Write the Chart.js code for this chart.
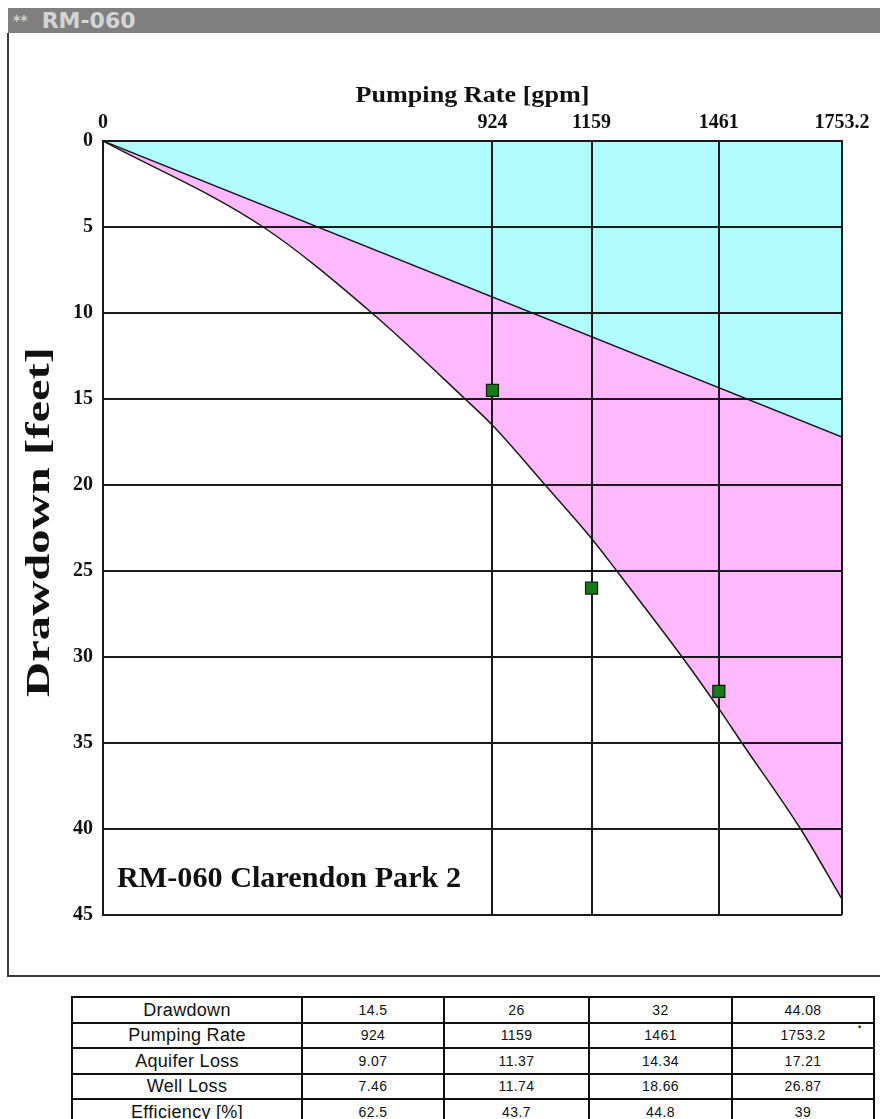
<!DOCTYPE html>
<html>
<head>
<meta charset="utf-8">
<script src="https://cdn.jsdelivr.net/npm/chart.js@4.4.1/dist/chart.umd.min.js"></script>
<style>
  html, body { margin: 0; padding: 0; background: #ffffff; }
  body { width: 880px; height: 1119px; position: relative; overflow: hidden; }
  #bar { position: absolute; left: 8px; top: 8px; width: 872px; height: 25px; background: #808080;
         color: #d4d4d4; font-family: 'DejaVu Sans', 'Liberation Sans', sans-serif; font-weight: bold;
         font-size: 22px; line-height: 25px; white-space: nowrap; }
  #bar .stars { font-size: 14px; vertical-align: 3px; margin-left: 5px; margin-right: 14px; }
  #panelL { position: absolute; left: 7px; top: 33px; width: 2px; height: 944px; background: #3a3a3a; }
  #panelB { position: absolute; left: 7px; top: 975px; width: 873px; height: 2px; background: #3a3a3a; }
  #wrap { position: absolute; left: 0; top: 0; width: 880px; height: 975px; }
  #tbl { position: absolute; left: 71px; top: 996px; border-collapse: collapse; }
  #tbl td { border: 2px solid #111; height: 23.5px; padding: 0; text-align: center; color: #111;
            font-family: 'Liberation Sans', Arial, sans-serif; font-size: 14px; letter-spacing: 0.4px; line-height: 22px; }
  #tbl td.lab { font-size: 18px; letter-spacing: 0.3px; }
  #dot { position: absolute; left: 858px; top: 1022px; font-size: 9px; color: #111;
         font-family: 'Liberation Sans', sans-serif; }
</style>
</head>
<body>
<div id="bar"><span class="stars">**</span>RM-060</div>
<div id="panelL"></div>
<div id="panelB"></div>
<div id="wrap"><canvas id="c" width="880" height="975"></canvas></div>
<table id="tbl"></table>
<div id="dot">•</div>
<script>
// ---- data ----
const rowLabels = ['Drawdown', 'Pumping Rate', 'Aquifer Loss', 'Well Loss', 'Efficiency [%]'];
const pumpingRates = [924, 1159, 1461, 1753.2];
const drawdowns = [14.5, 26, 32, 44.08];
const aquiferLoss = [9.07, 11.37, 14.34, 17.21];
const wellLoss = [7.46, 11.74, 18.66, 26.87];
const efficiency = [62.5, 43.7, 44.8, 39];

// aquifer-loss line (straight) endpoints
const aquiferLineQ = [0, 1753.2];
const aquiferLineS = [0, 17.21];
// total theoretical drawdown curve
const curveQ = [0, 380, 638, 859, 924, 1049, 1159, 1219, 1374, 1461, 1516, 1655, 1753.2];
const curveS = [0, 5, 10, 15, 16.53, 20, 23.11, 25, 30, 33.0, 35, 40, 44.08];
// measured points (markers)
const measuredQ = [924, 1159, 1461];
const measuredS = [14.5, 26, 32];

const xTicks = [0, 924, 1159, 1461, 1753.2];
const yTicks = [0, 5, 10, 15, 20, 25, 30, 35, 40, 45];

const xTitle = 'Pumping Rate [gpm]';
const yTitle = 'Drawdown [feet]';
const wellLabel = 'RM-060 Clarendon Park 2';

// ---- table ----
const tbl = document.getElementById('tbl');
const rows = [drawdowns, pumpingRates, aquiferLoss, wellLoss, efficiency];
const colW = [230, 142, 145, 143, 142];
rows.forEach((vals, i) => {
  const tr = document.createElement('tr');
  const th = document.createElement('td');
  th.className = 'lab'; th.textContent = rowLabels[i]; th.style.width = (colW[0] - 2) + 'px';
  tr.appendChild(th);
  vals.forEach((v, j) => {
    const td = document.createElement('td');
    td.textContent = String(v); td.style.width = (colW[j + 1] - 2) + 'px';
    tr.appendChild(td);
  });
  tbl.appendChild(tr);
});

// ---- chart ----
const pts = (xs, ys) => xs.map((x, i) => ({ x: x, y: ys[i] }));
const serif = "'Liberation Serif', 'Times New Roman', serif";
const ink = '#1a1a1a';

const stretchText = {
  id: 'stretchText',
  afterDraw(chart) {
    const ctx = chart.ctx, a = chart.chartArea;
    const draw = (text, size, targetW, x, y, rot, align) => {
      ctx.save();
      ctx.translate(x, y);
      ctx.rotate(rot);
      ctx.font = 'bold ' + size + 'px ' + serif;
      const w = ctx.measureText(text).width;
      ctx.scale(targetW / w, 1);
      ctx.fillStyle = '#111';
      ctx.textAlign = align;
      ctx.textBaseline = 'middle';
      ctx.fillText(text, 0, 0);
      ctx.restore();
    };
    draw(xTitle, 24, 234, (a.left + a.right) / 2, 96, 0, 'center');
    draw(yTitle, 33, 350, 40, (a.top + a.bottom) / 2 - 6, -Math.PI / 2, 'center');
    draw(wellLabel, 30, 344, a.left + 14, a.bottom - 36, 0, 'left');
  }
};

new Chart(document.getElementById('c'), {
  type: 'scatter',
  data: {
    datasets: [
      {
        label: 'Aquifer Loss',
        data: pts(aquiferLineQ, aquiferLineS),
        showLine: true,
        borderColor: ink,
        borderWidth: 1.5,
        pointRadius: 0,
        fill: 'origin',
        backgroundColor: '#b0fbfb',
        tension: 0
      },
      {
        label: 'Drawdown',
        data: pts(curveQ, curveS),
        showLine: true,
        borderColor: ink,
        borderWidth: 1.5,
        pointRadius: 0,
        fill: 'origin',
        backgroundColor: '#ffb8fb',
        cubicInterpolationMode: 'monotone'
      },
      {
        label: 'Measured',
        data: pts(measuredQ, measuredS),
        showLine: false,
        pointStyle: 'rect',
        pointRadius: 8.5,
        pointBackgroundColor: '#157a1a',
        pointBorderColor: '#0b1f0b',
        pointBorderWidth: 1.2,
        fill: false
      }
    ]
  },
  options: {
    responsive: false,
    animation: false,
    devicePixelRatio: 1,
    layout: { padding: { left: 0, top: 0, right: 38, bottom: 60 } },
    plugins: {
      legend: { display: false },
      tooltip: { enabled: false },
      filler: { drawTime: 'beforeDraw' }
    },
    scales: {
      x: {
        type: 'linear',
        position: 'top',
        min: 0,
        max: 1753.2,
        afterFit(scale) { scale.height = 141; },
        afterBuildTicks(scale) { scale.ticks = xTicks.map(v => ({ value: v })); },
        ticks: {
          autoSkip: false,
          maxRotation: 0,
          padding: 6,
          color: '#111',
          font: { family: serif, size: 20, weight: 'bold' },
          callback: v => String(v)
        },
        grid: { color: ink, lineWidth: 2, drawTicks: false },
        border: { display: true, color: ink, width: 2 },
        title: { display: false }
      },
      y: {
        type: 'linear',
        reverse: true,
        min: 0,
        max: 45,
        afterFit(scale) { scale.width = 103; },
        afterBuildTicks(scale) { scale.ticks = yTicks.map(v => ({ value: v })); },
        ticks: {
          padding: 10,
          color: '#111',
          font: { family: serif, size: 20, weight: 'bold' },
          callback: v => String(v)
        },
        grid: { color: ink, lineWidth: 2, drawTicks: false },
        border: { display: true, color: ink, width: 2 },
        title: { display: false }
      }
    }
  },
  plugins: [stretchText]
});
</script>
</body>
</html>
